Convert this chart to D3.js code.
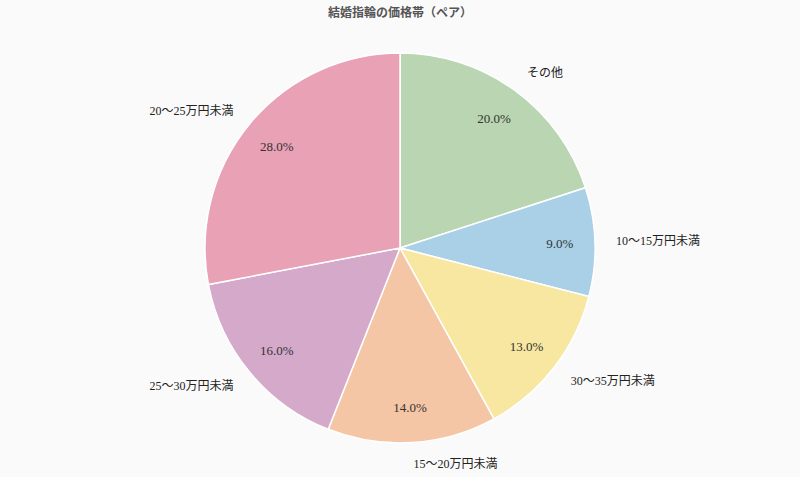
<!DOCTYPE HTML>
<html>
  <head>
    <meta charset="utf-8">
    <title>結婚指輪の価格帯</title>
    <style>
      body { margin: 0; background: #fafafa; }
      svg text { font-family: "Liberation Serif", "DejaVu Serif", "Noto Sans CJK JP", serif; }
    </style>
  </head>
  <body>
    <script src="https://cdn.jsdelivr.net/npm/d3@7"></script>
    <script>
      var categories = ['その他', '10〜15万円未満', '30〜35万円未満', '15〜20万円未満', '25〜30万円未満', '20〜25万円未満'];
      var shares = [20, 9, 13, 14, 16, 28];
      var colors = ['#b9d5b1', '#a9d0e6', '#f7e7a1', '#f5c6a5', '#d4a9c9', '#e8a1b5'];

      var width = 800,
        height = 477,
        cx = 400,
        cy = 248,
        radius = 195;

      var data = categories.map(function(c, i) { return { name: c, value: shares[i], color: colors[i] }; });

      var svg = d3.select('body').append('svg')
          .attr('width', width)
          .attr('height', height)
          .style('background', '#fafafa');

      svg.append('text')
          .attr('x', width / 2)
          .attr('y', 17)
          .attr('text-anchor', 'middle')
          .style('font-size', '12px')
          .style('font-weight', 'bold')
          .style('fill', '#555')
          .text('結婚指輪の価格帯（ペア）');

      var pie = d3.pie().sort(null).value(function(d) { return d.value; });
      var arcs = pie(data);

      var arc = d3.arc().innerRadius(0).outerRadius(radius);
      var inner = d3.arc().innerRadius(160).outerRadius(160);
      var outer = d3.arc().innerRadius(216).outerRadius(216);

      var g = svg.append('g')
          .attr('transform', 'translate(' + cx + ',' + cy + ')');

      g.selectAll('path')
          .data(arcs)
        .enter().append('path')
          .attr('d', arc)
          .attr('fill', function(d) { return d.data.color; })
          .attr('stroke', '#fff')
          .attr('stroke-width', 1.5);

      // percentages inside slices
      g.selectAll('text.pct')
          .data(arcs)
        .enter().append('text')
          .attr('class', 'pct')
          .attr('transform', function(d) { return 'translate(' + inner.centroid(d) + ')'; })
          .attr('text-anchor', 'middle')
          .attr('dy', '.35em')
          .style('font-size', '13px')
          .style('fill', '#333')
          .text(function(d) { return d.data.value.toFixed(1) + '%'; });

      // category labels outside
      g.selectAll('text.lbl')
          .data(arcs)
        .enter().append('text')
          .attr('class', 'lbl')
          .attr('transform', function(d) { return 'translate(' + outer.centroid(d) + ')'; })
          .attr('text-anchor', function(d) { return (d.startAngle + d.endAngle) / 2 < Math.PI ? 'start' : 'end'; })
          .attr('dy', '.35em')
          .style('font-size', '12px')
          .style('fill', '#222')
          .text(function(d) { return d.data.name; });
    </script>
  </body>
</html>
